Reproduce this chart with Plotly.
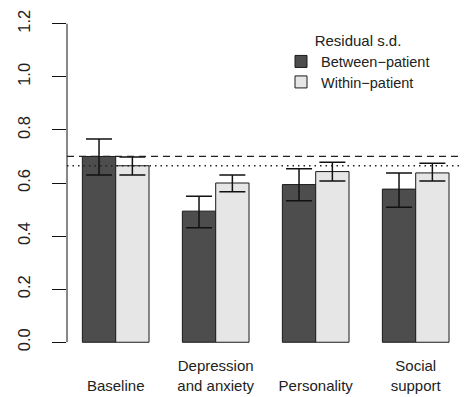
import plotly.graph_objects as go

categories = ["Baseline", "Depression\nand anxiety", "Personality", "Social\nsupport"]
between_sd = [0.70, 0.494, 0.594, 0.577]
between_lo = [0.630, 0.431, 0.533, 0.509]
between_hi = [0.766, 0.550, 0.654, 0.638]
within_sd = [0.665, 0.600, 0.643, 0.638]
within_lo = [0.630, 0.567, 0.608, 0.608]
within_hi = [0.698, 0.630, 0.678, 0.674]
series_names = ["Between\u2212patient", "Within\u2212patient"]
legend_title = "Residual s.d."
ref_between = 0.70
ref_within = 0.665
y_ticks = [0.0, 0.2, 0.4, 0.6, 0.8, 1.0, 1.2]

FONT = "Liberation Sans, Arial, sans-serif"
TXT = "#222222"
PLOT_T, PLOT_H = 11, 344

# multi-line labels: align single-line labels with the bottom line (like R)
ticktext = []
for c in categories:
    parts = c.split("\n")
    if len(parts) == 1:
        parts = [""] + parts
    ticktext.append("<br>".join(parts))

fig = go.Figure()
fig.add_trace(go.Bar(
    x=categories, y=between_sd, name=series_names[0], legend="legend",
    marker=dict(color="#4d4d4d", line=dict(color="#1a1a1a", width=1)),
    error_y=dict(type="data", symmetric=False,
                 array=[h - v for h, v in zip(between_hi, between_sd)],
                 arrayminus=[v - l for l, v in zip(between_lo, between_sd)],
                 color="#111111", thickness=1.5, width=13),
))
fig.add_trace(go.Bar(
    x=categories, y=within_sd, name=series_names[1], legend="legend2",
    marker=dict(color="#e6e6e6", line=dict(color="#1a1a1a", width=1)),
    error_y=dict(type="data", symmetric=False,
                 array=[h - v for h, v in zip(within_hi, within_sd)],
                 arrayminus=[v - l for l, v in zip(within_lo, within_sd)],
                 color="#111111", thickness=1.5, width=13),
))

# reference lines
fig.add_shape(type="line", xref="paper", x0=0, x1=1, yref="y", y0=ref_between, y1=ref_between,
              line=dict(color="#222222", width=1.3, dash="7px,5px"), layer="above")
fig.add_shape(type="line", xref="paper", x0=0, x1=1, yref="y", y0=ref_within, y1=ref_within,
              line=dict(color="#222222", width=1.3, dash="1.5px,4px"), layer="above")
# R-style y-axis spine from first to last tick
fig.add_shape(type="line", xref="paper", x0=0, x1=0, yref="y", y0=y_ticks[0], y1=y_ticks[-1],
              line=dict(color="#111111", width=1))

legfont = dict(size=14.5, family=FONT, color=TXT)
fig.update_layout(
    width=464, height=397,
    margin=dict(l=67, r=1, t=PLOT_T, b=397 - PLOT_T - PLOT_H),
    paper_bgcolor="white", plot_bgcolor="white",
    barmode="group", bargap=1/3, bargroupgap=0,
    font=dict(family=FONT, color=TXT),
    showlegend=True,
    legend=dict(
        x=(281 - 67) / 396, xanchor="left", y=1 - (26 - PLOT_T) / PLOT_H, yanchor="top",
        bgcolor="rgba(0,0,0,0)", font=legfont,
        title=dict(text=legend_title, side="top center", font=dict(size=15, family=FONT, color=TXT)),
        itemclick=False,
    ),
    legend2=dict(
        x=(281 - 67) / 396, xanchor="left", y=1 - (66 - PLOT_T) / PLOT_H, yanchor="top",
        bgcolor="rgba(0,0,0,0)", font=legfont, itemclick=False,
    ),
    xaxis=dict(
        type="category", range=[-0.487, 3.473],
        tickmode="array", tickvals=categories, ticktext=ticktext,
        showline=False, showgrid=False, zeroline=False, ticks="",
        tickfont=dict(size=15, family=FONT, color=TXT), automargin=False,
    ),
    yaxis=dict(
        range=[-0.048, 1.248], tickmode="array", tickvals=y_ticks,
        ticktext=[f"{v:.1f}" for v in y_ticks],
        showline=False, showgrid=False, zeroline=False,
        ticks="outside", ticklen=14, tickwidth=1, tickcolor="#111111",
        tickangle=-90, tickfont=dict(size=16.5, family=FONT, color=TXT),
        ticklabelstandoff=15, automargin=False,
    ),
)

fig.write_html("out.html", post_script="document.body.style.margin='0';",
               config={"displayModeBar": False})
